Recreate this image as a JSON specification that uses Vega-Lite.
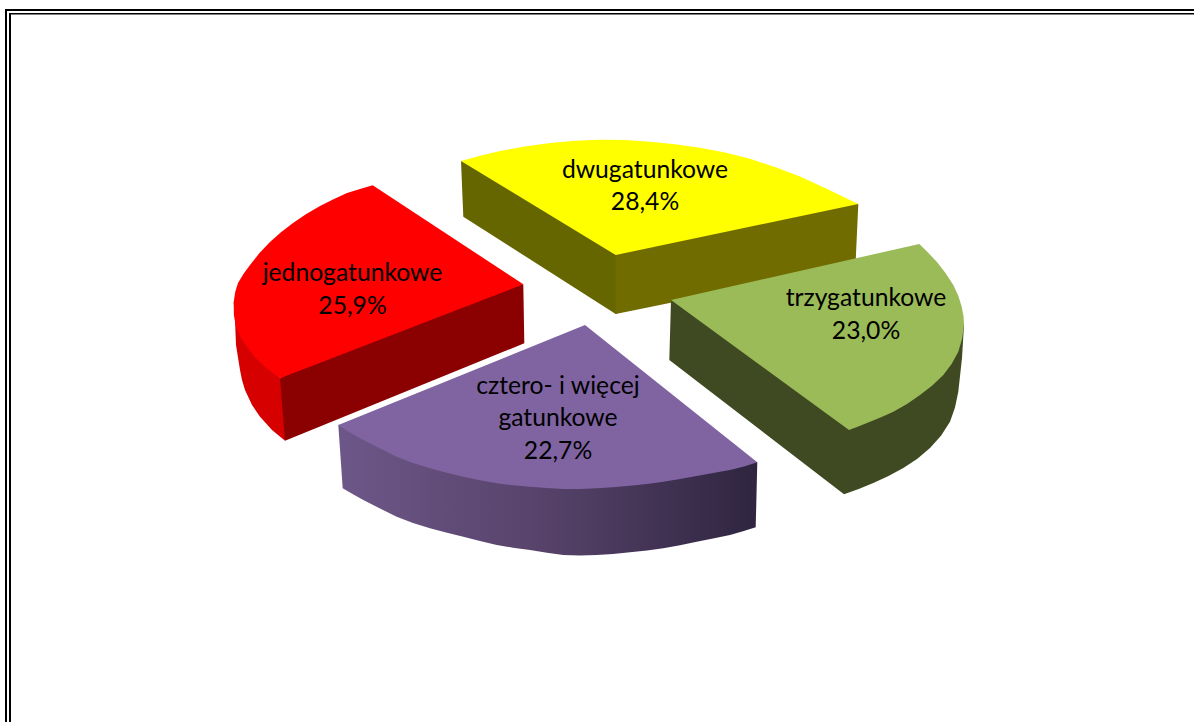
{"$schema":"https://vega.github.io/schema/vega-lite/v6.json","width":1194,"height":722,"padding":0,"autosize":"none","background":"white","view":{"stroke":null},"projection":{"type":"identity","scale":1,"translate":[0,0]},"layer":[
{"data":{"values":[
{"type":"Feature","properties":{"part":"purple-side"},"geometry":{"type":"Polygon","coordinates":[[[338.3,425],[585,400],[757.3,462.3],[755.7,527.3],[743,531.3],[730,535],[713,538.5],[696.7,541.7],[680,545.2],[663.3,548.3],[647,550.6],[630,552.3],[613,554],[596.7,555],[580,555.6],[563.3,555],[547,552.8],[530,550],[513,547.7],[496.7,545],[480,541],[463.3,536.7],[447,532.8],[430,528.3],[413,523],[396.7,516.7],[380,508.6],[363.3,500],[353,494.2],[342.7,488.3],[338.3,425]]]}}
]},"mark":{"type":"geoshape","fill":{"gradient":"linear","x1":0,"x2":1,"y1":0,"y2":0,"stops":[{"offset":0,"color":"#6d5789"},{"offset":0.5,"color":"#564269"},{"offset":1,"color":"#2f2540"}]}}},
{"data":{"values":[
{"type":"Feature","properties":{"part":"frame"},"geometry":{"type":"Polygon","coordinates":[[[5,9],[7,9],[7,722],[5,722],[5,9]]]}},
{"type":"Feature","properties":{"part":"frame"},"geometry":{"type":"Polygon","coordinates":[[[9,13],[11,13],[11,722],[9,722],[9,13]]]}},
{"type":"Feature","properties":{"part":"frame"},"geometry":{"type":"Polygon","coordinates":[[[5,9],[1194,9],[1194,11],[5,11],[5,9]]]}},
{"type":"Feature","properties":{"part":"frame"},"geometry":{"type":"Polygon","coordinates":[[[9,13],[1194,13],[1194,14.5],[9,14.5],[9,13]]]}},
{"type":"Feature","properties":{"part":"yellow-left"},"geometry":{"type":"Polygon","coordinates":[[[461,161],[600,200],[617,255],[617,314],[615.7,314],[463.3,216.7],[461,161]]]}},
{"type":"Feature","properties":{"part":"yellow-right"},"geometry":{"type":"Polygon","coordinates":[[[615.7,255],[700,200],[858.3,204],[855.5,265],[615.7,314],[615.7,255]]]}},
{"type":"Feature","properties":{"part":"yellow-top"},"geometry":{"type":"Polygon","coordinates":[[[461,161],[480,155.8],[500,151.1],[525,146.4],[550,143],[575,140.7],[600,139.8],[625,140.1],[650,141.7],[675,144.3],[700,147.8],[725,152.4],[750,158.8],[775,167],[800,176.5],[825,188],[858.3,204],[615.7,255],[461,161]]]}},
{"type":"Feature","properties":{"part":"red-left"},"geometry":{"type":"Polygon","coordinates":[[[233.7,302],[235,320],[236,345],[240,370],[242,380],[245,390],[252,405],[260,416.7],[272,430],[285,440.7],[290,400],[280,378.3],[233.7,302]]]}},
{"type":"Feature","properties":{"part":"red-front"},"geometry":{"type":"Polygon","coordinates":[[[400,300],[523.3,284.3],[524.3,343.3],[285,440.7],[280,378.3],[400,300]]]}},
{"type":"Feature","properties":{"part":"red-top"},"geometry":{"type":"Polygon","coordinates":[[[372.7,185.3],[360,189],[347,193],[333.5,199.2],[320,206],[306.3,214],[293,223],[281,232.2],[270,242],[259.5,253],[250,265],[243.6,273.8],[238,283],[235.2,292],[233.7,302],[233.9,315],[236,327],[240.8,337.5],[247,347],[254.6,356.5],[263,365],[271.5,372],[280,378.3],[523.3,284.3],[372.7,185.3]]]}},
{"type":"Feature","properties":{"part":"green-side"},"geometry":{"type":"Polygon","coordinates":[[[671,300],[800,330],[964,325],[962,358],[958.3,391.7],[955,407.5],[950,421.7],[941,435.8],[930,448],[917.4,458.8],[903.3,468],[888.5,476],[873.3,483],[858.7,489],[844,494.3],[669.3,360],[671,300]]]}},
{"type":"Feature","properties":{"part":"green-top"},"geometry":{"type":"Polygon","coordinates":[[[671,300],[919.3,244],[928,252.6],[936.7,261.7],[945.5,273],[953.3,285],[958.2,295.6],[961.7,306.7],[963.5,316],[964,325],[962.2,338.5],[958.3,351.7],[951.6,364],[943.3,375],[932.3,385.5],[920,395],[907,404],[893.3,411.7],[881.7,417],[870,421.7],[859.5,426],[849,430],[671,300]]]}},
{"type":"Feature","properties":{"part":"purple-top"},"geometry":{"type":"Polygon","coordinates":[[[585,325],[338.3,425],[350,432.5],[363.3,440],[380,448.6],[396.7,456.7],[413,463],[430,468.3],[446.7,472.8],[463.3,476.7],[480,480.3],[496.7,483.3],[513,485.3],[530,486.7],[547,488.1],[563.3,489],[580,489],[596.7,488.3],[613,487.2],[630,485.7],[647,483.9],[663.3,481.7],[680,479],[696.7,476],[713,473.1],[730,470],[744,466.5],[757.3,462.3],[585,325]]]}}
]},"mark":{"type":"geoshape"},"encoding":{"color":{"field":"properties.part","type":"nominal","legend":null,"scale":{"domain":["frame","yellow-left","yellow-right","yellow-top","red-left","red-front","red-top","green-side","green-top","purple-top"],"range":["#000000","#666600","#716c00","#ffff00","#d60000","#8b0000","#ff0000","#404a22","#9bbb59","#8064a2"]}}}},
{"data":{"values":[
{"slice":"jednogatunkowe","value":25.9,"label":"jednogatunkowe\n25,9%","x":352.5,"y":274},
{"slice":"dwugatunkowe","value":28.4,"label":"dwugatunkowe\n28,4%","x":645,"y":170.5},
{"slice":"trzygatunkowe","value":23.0,"label":"trzygatunkowe\n23,0%","x":866,"y":299},
{"slice":"cztero- i więcej gatunkowe","value":22.7,"label":"cztero- i więcej\ngatunkowe\n22,7%","x":558,"y":386.5}
]},"mark":{"type":"text","font":"Lato","fontSize":24.7,"lineHeight":32.5,"lineBreak":"\n","align":"center","baseline":"middle","color":"#000000"},"encoding":{"longitude":{"field":"x","type":"quantitative"},"latitude":{"field":"y","type":"quantitative"},"text":{"field":"label","type":"nominal"}}}
]}
